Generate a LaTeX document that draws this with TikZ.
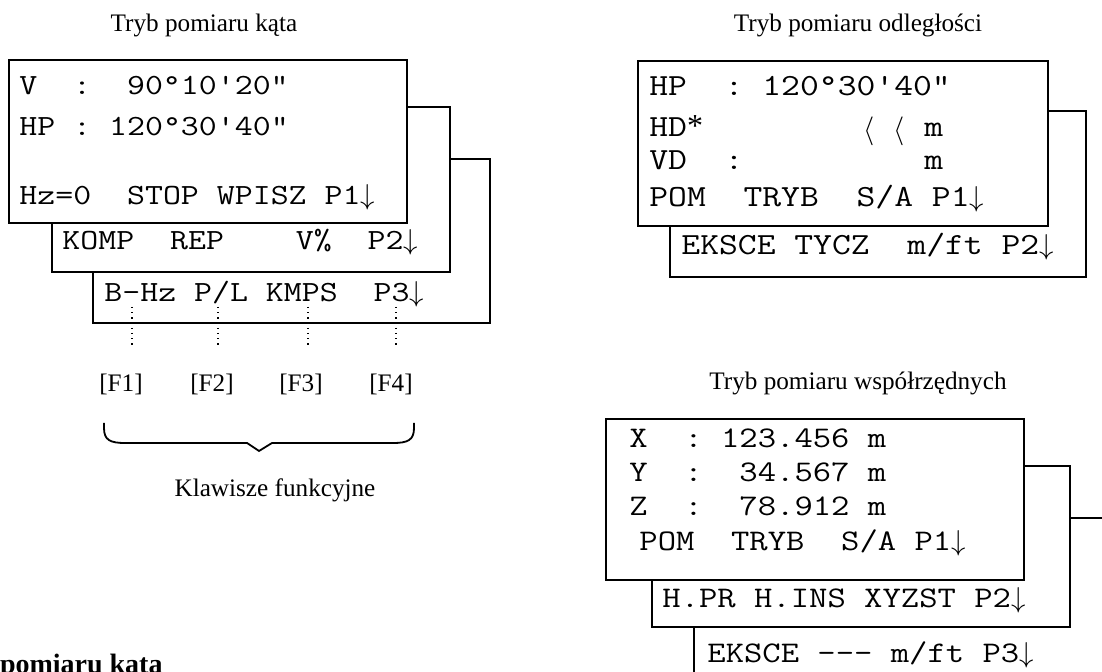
\documentclass[tikz,border=0pt]{standalone}
\usepackage{fontspec}
\setmainfont{Liberation Serif}
\setmonofont{Latin Modern Mono}[FakeStretch=1.19]
\begin{document}
\begin{tikzpicture}[x=0.5pt,y=-0.5pt]
		\tikzset{screen/.style={draw, fill=white, line width=1pt}}
		\tikzset{lcdA/.style={anchor=base west, inner sep=0pt, font=\ttfamily\fontsize{14.65}{16}\selectfont}}
		\tikzset{lcdB/.style={anchor=base west, inner sep=0pt, font=\ttfamily\fontsize{15.37}{17}\selectfont}}
		\tikzset{lcdC/.style={anchor=base west, inner sep=0pt, font=\ttfamily\fontsize{14.97}{16}\selectfont}}
		\tikzset{caption/.style={anchor=base, inner sep=0pt, font=\fontsize{12.6}{15}\selectfont}}
		\tikzset{bracket/.style={anchor=base west, inner sep=0pt, font=\fontsize{14}{16}\selectfont}}
		\tikzset{keyline/.style={dotted, line width=0.6pt}}
		\useasboundingbox (0,0) rectangle (1102,672);
		\clip (0,0) rectangle (1102,672);
		%titles
		\node[caption] (tk) at (204,32) {Tryb pomiaru kąta};
		\node[caption] (to) at (858,32) {Tryb pomiaru odległości};
		\node[caption] (tw) at (858,390) {Tryb pomiaru współrzędnych};
		\node[anchor=base east, inner sep=0pt, font=\bfseries\fontsize{14}{17}\selectfont] (head) at (163,674) {Tryb pomiaru kąta};
		%angle screens
		\draw[screen] (93,159) rectangle (490,323);
		\draw[screen] (52,107) rectangle (450,272);
		\draw[screen] (9,60) rectangle (407,223);
		\node[lcdA] (av) at (19,95) {V~~:~~90°10'20"};
		\node[lcdA] (ahp) at (19,136) {HP : 120°30'40"};
		\node[lcdA] (ap1) at (19,205) {Hz=0~~STOP WPISZ P1$\downarrow$};
		\node[lcdA] (ap2) at (62,250) {KOMP~~REP~~~~V\%~~P2$\downarrow$};
		\node[lcdA] (ap3) at (104,302) {B-Hz P/L KMPS~~P3$\downarrow$};
		%function keys
		\node[caption] (f1) at (121,392) {[F1]};
		\node[caption] (f2) at (212,392) {[F2]};
		\node[caption] (f3) at (301,392) {[F3]};
		\node[caption] (f4) at (391,392) {[F4]};
		\foreach \i/\x in {1/132, 2/218, 3/308, 4/396}{
			\coordinate (k\i) at (\x,307);
			\coordinate (e\i) at (\x,345);
			\draw[keyline] (k\i) -- (e\i);
		}
		\draw[line width=0.9pt] (104,423) -- (104,428) .. controls (104,440) and (110,443) .. (125,443)
			-- (247,443) -- (259,451) -- (272,443) -- (393,443)
			.. controls (408,443) and (414,440) .. (414,428) -- (414,423);
		\node[caption] (kf) at (275,497) {Klawisze funkcyjne};
		%distance screens
		\draw[screen] (670,111) rectangle (1086,277);
		\draw[screen] (638,61) rectangle (1048,226);
		\node[lcdB] (dhp) at (649,96) {HP~~: 120°30'40"};
		\node[lcdB] (dhd) at (649,137) {HD{\rmfamily\fontsize{16}{18}\selectfont *}};
		\node[bracket] (lt1) at (863,139) {$\langle$};
		\node[bracket] (lt2) at (893,139) {$\langle$};
		\node[lcdB] (dm1) at (924,137) {m};
		\node[lcdB] (dvd) at (649,170) {VD~~:};
		\node[lcdB] (dm2) at (924,170) {m};
		\node[lcdB] (dp1) at (649,207) {POM~~TRYB~~S/A P1$\downarrow$};
		\node[lcdB] (dp2) at (681,255) {EKSCE TYCZ~~m/ft P2$\downarrow$};
		%coordinate screens
		\draw[screen] (694,518) rectangle (1140,720);
		\draw[screen] (652,466) rectangle (1070,627);
		\draw[screen] (606,419) rectangle (1024,580);
		\node[lcdC] (cx) at (629,448) {X~~: 123.456 m};
		\node[lcdC] (cy) at (629,482) {Y~~:~~34.567 m};
		\node[lcdC] (cz) at (629,516) {Z~~:~~78.912 m};
		\node[lcdC] (cp1) at (639,551) {POM~~TRYB~~S/A P1$\downarrow$};
		\node[lcdC] (cp2) at (662,608) {H.PR H.INS XYZST P2$\downarrow$};
		\node[lcdC] (cp3) at (707,662) {EKSCE -{}-{}- m/ft P3$\downarrow$};
\end{tikzpicture}
\end{document}
